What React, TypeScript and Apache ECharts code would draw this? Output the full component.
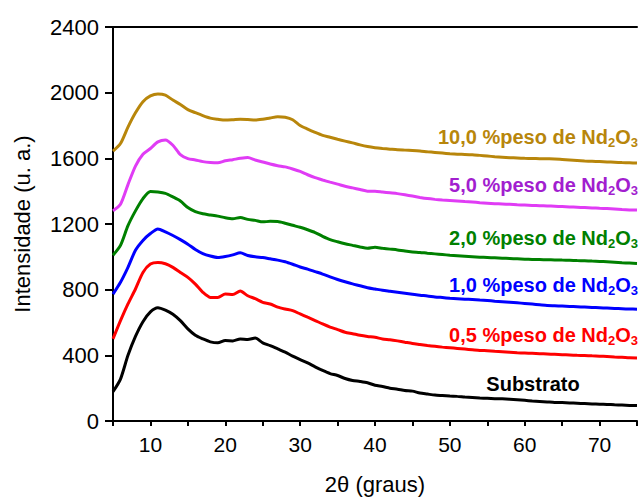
import React, { useEffect, useRef } from "react";
import * as echarts from "echarts";

const twoTheta = [
  5, 6, 7, 8, 9, 10, 11, 12, 13, 14, 15, 16, 17, 18, 19, 20, 21, 22, 23, 24,
  25, 26, 27, 28, 29, 30, 31, 32, 33, 34, 35, 36, 37, 38, 39, 40, 41, 42, 43, 44,
  45, 46, 47, 48, 49, 50, 51, 52, 53, 54, 55, 56, 57, 58, 59, 60, 61, 62, 63, 64,
  65, 66, 67, 68, 69, 70, 71, 72, 73, 74, 75,
];

const substrato = [
  178, 255, 400, 515, 605, 665, 690, 675, 650, 611, 561, 522, 500, 482, 476, 490, 488, 500, 496, 505,
  476, 459, 439, 419, 395, 374, 354, 330, 308, 289, 277, 259, 247, 241, 233, 218, 210, 200, 194, 186,
  182, 170, 164, 158, 155, 152, 150, 146, 143, 140, 138, 136, 135, 133, 130, 126, 122, 119, 116, 113,
  112, 110, 108, 106, 104, 102, 101, 99, 97, 95, 94,
];

const nd05 = [
  500, 611, 713, 804, 905, 956, 966, 958, 936, 905, 875, 834, 784, 753, 752, 773, 770, 792, 763, 745,
  723, 713, 694, 682, 672, 652, 632, 612, 591, 572, 557, 541, 532, 522, 515, 510, 500, 495, 488, 480,
  472, 466, 460, 455, 450, 446, 442, 438, 434, 430, 428, 425, 422, 419, 416, 414, 412, 410, 408, 406,
  404, 402, 400, 399, 397, 395, 393, 390, 388, 385, 384,
];

const nd10 = [
  773, 845, 936, 1040, 1100, 1142, 1170, 1152, 1130, 1105, 1077, 1045, 1020, 1005, 996, 1002, 1012, 1025, 1008, 1000,
  996, 988, 980, 970, 955, 938, 925, 910, 895, 878, 862, 848, 835, 824, 812, 804, 796, 790, 784, 778,
  772, 766, 762, 756, 752, 748, 745, 742, 740, 737, 734, 730, 727, 724, 720, 716, 712, 708, 704, 702,
  700, 698, 696, 694, 692, 690, 688, 686, 684, 682, 681,
];

const nd20 = [
  1010, 1070, 1190, 1280, 1355, 1398, 1395, 1387, 1365, 1340, 1300, 1275, 1262, 1255, 1248, 1238, 1232, 1240, 1228, 1222,
  1213, 1216, 1215, 1205, 1192, 1180, 1165, 1148, 1125, 1105, 1092, 1080, 1070, 1060, 1052, 1058, 1052, 1047, 1042, 1035,
  1030, 1027, 1022, 1018, 1014, 1010, 1007, 1004, 1001, 998, 996, 994, 992, 990, 988, 986, 984, 983, 982, 981,
  980, 979, 977, 976, 974, 972, 970, 967, 964, 962, 960,
];

const nd50 = [
  1280, 1320, 1440, 1553, 1625, 1660, 1700, 1712, 1680, 1622, 1598, 1590, 1580, 1575, 1573, 1585, 1592, 1600, 1605, 1590,
  1578, 1565, 1555, 1548, 1535, 1520, 1500, 1482, 1468, 1455, 1443, 1430, 1420, 1410, 1400, 1400, 1395, 1390, 1385, 1378,
  1370, 1362, 1355, 1350, 1346, 1343, 1340, 1337, 1334, 1330, 1327, 1324, 1322, 1320, 1317, 1315, 1313, 1311, 1310, 1308,
  1306, 1304, 1302, 1300, 1298, 1296, 1294, 1291, 1288, 1286, 1285,
];

const nd100 = [
  1644, 1690, 1790, 1877, 1945, 1980, 1992, 1985, 1955, 1928, 1897, 1878, 1860, 1845, 1838, 1833, 1835, 1838, 1836, 1833,
  1838, 1846, 1853, 1850, 1835, 1800, 1778, 1758, 1740, 1728, 1716, 1705, 1694, 1682, 1672, 1665, 1660, 1656, 1652, 1650,
  1648, 1645, 1640, 1636, 1632, 1628, 1625, 1624, 1622, 1618, 1614, 1610, 1607, 1604, 1602, 1600, 1599, 1598, 1597, 1596,
  1593, 1590, 1587, 1584, 1582, 1580, 1578, 1576, 1574, 1573, 1571,
];

const seriesNames = [
  "Substrato",
  "0,5 %peso de Nd2O3",
  "1,0 %peso de Nd2O3",
  "2,0 %peso de Nd2O3",
  "5,0 %peso de Nd2O3",
  "10,0 %peso de Nd2O3",
];
const seriesValues = [substrato, nd05, nd10, nd20, nd50, nd100];
const lineColors = ["#000000", "#FF0000", "#0000FF", "#008000", "#E03CF5", "#B8860B"];
const labelColors = ["#000000", "#FF0000", "#0000FF", "#008000", "#A21ECF", "#B8860B"];
const labelPrefixes = ["", "0,5", "1,0", "2,0", "5,0", "10,0"];
const labelCenters = [384, 335, 285, 238, 185, 137];

const yTicks = [0, 400, 800, 1200, 1600, 2000, 2400];

const FONT = "'Liberation Sans', Arial, Helvetica, sans-serif";

export default function App() {
  const ref = useRef<HTMLDivElement>(null);
  useEffect(() => {
    if (!ref.current) return;
    const chart = echarts.init(ref.current, null, { renderer: "svg" });

    const series = seriesValues.map((vals, i) => ({
      name: seriesNames[i],
      type: "line",
      data: vals.map((v, j) => [twoTheta[j], v]),
      showSymbol: false,
      symbol: "none",
      smooth: 0.25,
      lineStyle: { color: lineColors[i], width: 3 },
      itemStyle: { color: lineColors[i] },
      z: 2,
    }));

    const graphics: any[] = [];
    for (let i = 1; i < 6; i++) {
      graphics.push({
        type: "text",
        x: 638,
        y: labelCenters[i],
        style: {
          text: `{m|${labelPrefixes[i]} %peso de Nd}{s|2}{m|O}{s|3}`,
          align: "right",
          verticalAlign: "middle",
          fill: labelColors[i],
          rich: {
            m: { fontFamily: FONT, fontSize: 20, fontWeight: "bold", fill: labelColors[i], lineHeight: 24, verticalAlign: "middle" },
            s: { fontFamily: FONT, fontSize: 13, fontWeight: "bold", fill: labelColors[i], lineHeight: 24, verticalAlign: "bottom", padding: [8, 0, 0, 0] },
          },
        },
      });
    }
    graphics.push({
      type: "text",
      x: 533,
      y: labelCenters[0],
      style: {
        text: "Substrato",
        align: "center",
        verticalAlign: "middle",
        fill: "#000",
        fontFamily: FONT,
        fontSize: 20,
        fontWeight: "bold",
      },
    });

    chart.setOption({
      animation: false,
      backgroundColor: "#fff",
      grid: { left: 113, top: 27, bottom: 78, right: -8, containLabel: false },
      xAxis: [
        {
          type: "value",
          min: 5,
          max: 75,
          interval: 5,
          position: "bottom",
          name: "2\u03B8 (graus)",
          nameLocation: "middle",
          nameGap: 52,
          nameTextStyle: { fontFamily: FONT, fontSize: 22, color: "#000" },
          axisLine: { show: true, onZero: false, lineStyle: { color: "#000", width: 2 } },
          axisTick: { show: true, inside: false, length: 5, lineStyle: { color: "#000", width: 2 } },
          axisLabel: {
            fontFamily: FONT,
            fontSize: 21,
            color: "#000",
            margin: 13,
            formatter: (v: number) => (v % 10 === 0 ? String(v) : ""),
          },
          splitLine: { show: false },
        },
        {
          type: "value",
          min: 5,
          max: 75,
          position: "top",
          axisLine: { show: true, onZero: false, lineStyle: { color: "#000", width: 2 } },
          axisTick: { show: false },
          axisLabel: { show: false },
          splitLine: { show: false },
        },
      ],
      yAxis: {
        type: "value",
        min: yTicks[0],
        max: yTicks[yTicks.length - 1],
        interval: 400,
        name: "Intensidade (u. a.)",
        nameLocation: "middle",
        nameGap: 80,
        nameTextStyle: { fontFamily: FONT, fontSize: 22, color: "#000" },
        axisLine: { show: true, onZero: false, lineStyle: { color: "#000", width: 2 } },
        axisTick: { show: true, inside: false, length: 8, lineStyle: { color: "#000", width: 2 } },
        axisLabel: {
          fontFamily: FONT,
          fontSize: 22,
          color: "#000",
          margin: 14,
          formatter: (v: number) => String(v),
        },
        splitLine: { show: false },
      },
      series,
      graphic: graphics,
    });
    return () => chart.dispose();
  }, []);
  return <div ref={ref} style={{ width: 640, height: 500, position: "absolute", left: 0, top: 0 }} />;
}
